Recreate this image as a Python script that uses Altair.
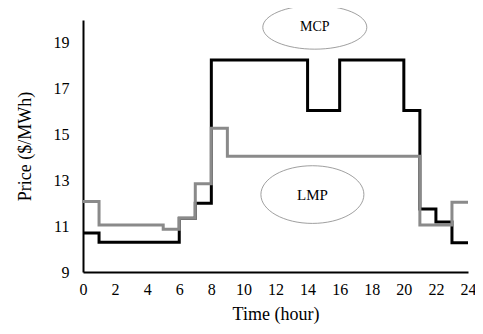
import altair as alt
import pandas as pd

hours = list(range(25))
mcp = [10.7, 10.3, 10.3, 10.3, 10.3, 10.3, 11.35, 12.0, 18.25, 18.25, 18.25, 18.25, 18.25, 18.25,
       16.05, 16.05, 18.25, 18.25, 18.25, 18.25, 16.05, 11.75, 11.18, 10.28, 10.28]
lmp = [12.08, 11.05, 11.05, 11.05, 11.05, 10.87, 11.35, 12.85, 15.28, 14.05, 14.05, 14.05, 14.05, 14.05,
       14.05, 14.05, 14.05, 14.05, 14.05, 14.05, 14.05, 11.05, 11.05, 12.05, 12.05]
x_ticks = list(range(0, 25, 2))
y_ticks = [9, 11, 13, 15, 17, 19]

label_names = ["MCP", "LMP"]
label_x = [14.45, 14.3]
label_y = [19.68, 12.38]
label_size = [14, 15]
label_shape = ["M -1 0 A 1 0.42 0 1 0 1 0 A 1 0.42 0 1 0 -1 0",
               "M -1 0 A 1 0.56 0 1 0 1 0 A 1 0.56 0 1 0 -1 0"]

df = pd.concat([
    pd.DataFrame({"hour": hours, "price": mcp, "series": "MCP"}),
    pd.DataFrame({"hour": hours, "price": lmp, "series": "LMP"}),
])
lab = pd.DataFrame({"name": label_names, "x": label_x, "y": label_y,
                    "shape": label_shape, "fs": label_size})

font = "Liberation Serif"
xs = alt.Scale(domain=[0, 24], nice=False)
ys = alt.Scale(domain=[9, 20], nice=False)

xax = alt.Axis(values=x_ticks, title="Time (hour)")
yax = alt.Axis(values=y_ticks, title="Price ($/MWh)")


def enc(xf, yf):
    return dict(x=alt.X(xf, scale=xs, axis=xax), y=alt.Y(yf, scale=ys, axis=yax))


base = alt.Chart(df)
black = base.transform_filter(alt.datum.series == "MCP").mark_line(
    interpolate="step-after", color="black", strokeWidth=3, strokeJoin="miter", strokeCap="butt"
).encode(**enc("hour:Q", "price:Q"))
gray = base.transform_filter(alt.datum.series == "LMP").mark_line(
    interpolate="step-after", color="#8a8a8a", strokeWidth=3, strokeJoin="miter", strokeCap="butt"
).encode(**enc("hour:Q", "price:Q"))

ell1 = alt.Chart(lab.iloc[[0]]).mark_point(
    shape=label_shape[0], size=10816, filled=False, stroke="#555555", strokeWidth=0.8
).encode(**enc("x:Q", "y:Q"))
ell2 = alt.Chart(lab.iloc[[1]]).mark_point(
    shape=label_shape[1], size=10609, filled=False, stroke="#555555", strokeWidth=0.8
).encode(**enc("x:Q", "y:Q"))
txt = alt.Chart(lab).mark_text(font=font, color="black").encode(
    text="name:N", size=alt.Size("fs:Q", scale=None, legend=None), **enc("x:Q", "y:Q"))

chart = alt.layer(black, gray, ell1, ell2, txt).properties(
    width=385, height=252, autosize=alt.AutoSizeParams(type="none"),
    padding={"left": 75, "top": 12, "right": 7, "bottom": 54}
).configure_view(stroke=None).configure_axis(
    domainColor="black", domainWidth=2, labelFont=font, labelFontSize=16, labelColor="black",
    titleFont=font, titleFontSize=18, titleFontWeight="normal", titleColor="black",
    ticks=False, grid=False, labelOverlap=False, labelFlush=False, labelBound=False
).configure_axisX(labelPadding=9, titlePadding=8).configure_axisY(labelPadding=14, titlePadding=19)

chart.save("out.html", embed_options={"renderer": "svg", "actions": False})
